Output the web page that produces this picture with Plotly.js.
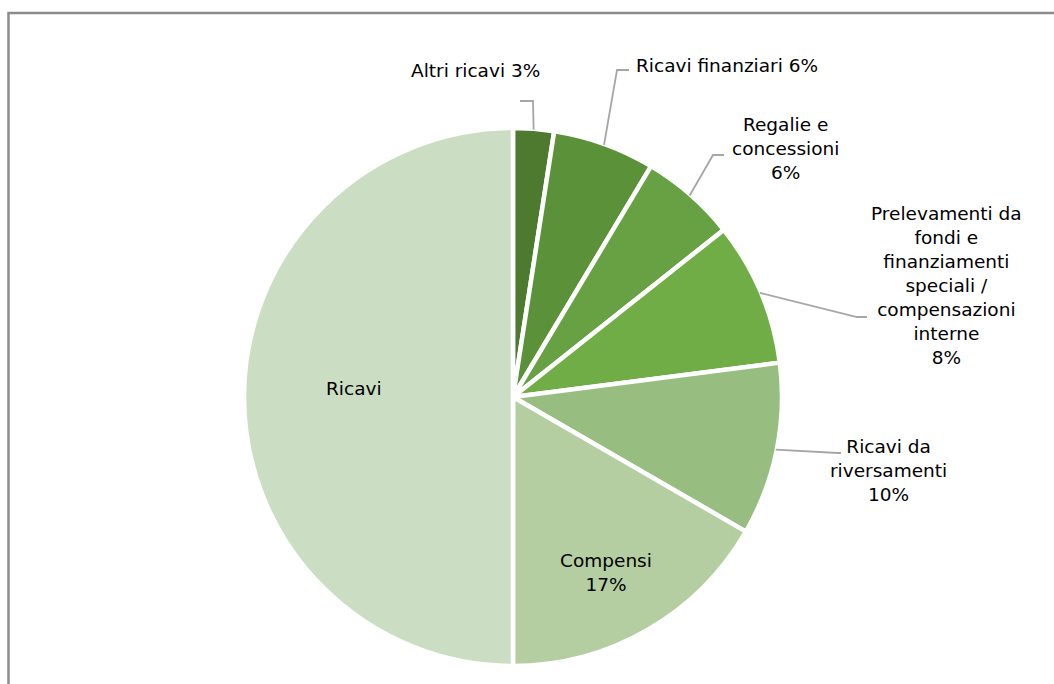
<!DOCTYPE html>
<html>
<head>
<meta charset="utf-8">
<script src="https://cdn.plot.ly/plotly-3.0.1.min.js"></script>
<style>html,body{margin:0;padding:0;background:#fff;}#chart{width:1054px;height:684px;}</style>
</head>
<body>
<div id="chart"></div>
<script>
// ---- data ----
const labels = ['Altri ricavi', 'Ricavi finanziari', 'Regalie e concessioni',
  'Prelevamenti da fondi e finanziamenti speciali / compensazioni interne',
  'Ricavi da riversamenti', 'Compensi', 'Ricavi'];
const values = [2.45, 6.13, 5.75, 8.63, 10.38, 16.66, 50.0];
const pctText = ['3%', '6%', '6%', '8%', '10%', '17%', ''];
const displayLabels = ['Altri ricavi 3%', 'Ricavi finanziari 6%', 'Regalie e<br>concessioni<br>6%',
  'Prelevamenti da<br>fondi e<br>finanziamenti<br>speciali /<br>compensazioni<br>interne<br>8%',
  'Ricavi da<br>riversamenti<br>10%', 'Compensi<br>17%', 'Ricavi'];
const colors = ['#4e7a30', '#5b9139', '#68a143', '#70ad47', '#98bd80', '#b4cea1', '#cbdec4'];

// ---- layout constants (pixels) ----
const W = 1054, H = 684, CX = 513, CY = 397, R = 269;
const px = x => x / W, py = y => 1 - y / H;
const labelPos = [[475, 70], [727, 66], [785, 149], [946, 285], [888, 470], [606, 572], [354, 388]];
// leader: [elbow, end] or null
const leaders = [[[533, 101], [520, 101]], [[617, 70], [629, 70]], [[713, 155], [724, 155]],
  [[857, 317], [867, 317]], [[838, 453], [841, 453]], null, null];

const total = values.reduce((a, b) => a + b, 0);
let cum = 0;
const shapes = [];
const annotations = [];
values.forEach((v, i) => {
  const mid = (cum + v / 2) / total;
  cum += v;
  const th = 2 * Math.PI * mid;
  const sx = CX + (R - 1) * Math.sin(th), sy = CY - (R - 1) * Math.cos(th);
  if (leaders[i]) {
    const [e, t] = leaders[i];
    shapes.push({type: 'path', xref: 'paper', yref: 'paper',
      path: `M ${px(sx)},${py(sy)} L ${px(e[0])},${py(e[1])} L ${px(t[0])},${py(t[1])}`,
      line: {color: '#a6a6a6', width: 1.8}});
  }
  annotations.push({xref: 'paper', yref: 'paper', x: px(labelPos[i][0]), y: py(labelPos[i][1]),
    xanchor: 'center', yanchor: 'middle', text: displayLabels[i], showarrow: false, align: 'center',
    font: {family: 'DejaVu Sans, Liberation Sans, Arial, sans-serif', size: 18.5, color: '#000'}});
});
// chart border
shapes.push({type: 'rect', xref: 'paper', yref: 'paper', x0: px(8.5), y0: py(13), x1: 1.02, y1: -0.02,
  line: {color: '#8c8c8c', width: 2.5}, fillcolor: 'rgba(0,0,0,0)'});

const data = [{
  type: 'pie', labels: labels, values: values, text: pctText, sort: false,
  direction: 'clockwise', rotation: 0, textinfo: 'none', hoverinfo: 'label+percent',
  marker: {colors: colors, line: {color: '#ffffff', width: 4.5}},
  domain: {x: [px(CX - R), px(CX + R)], y: [py(CY + R), py(CY - R)]},
  showlegend: false
}];
const layout = {
  width: W, height: H, margin: {l: 0, r: 0, t: 0, b: 0},
  paper_bgcolor: '#ffffff', showlegend: false,
  shapes: shapes, annotations: annotations
};
Plotly.newPlot('chart', data, layout, {displayModeBar: false, staticPlot: true});
</script>
</body>
</html>
